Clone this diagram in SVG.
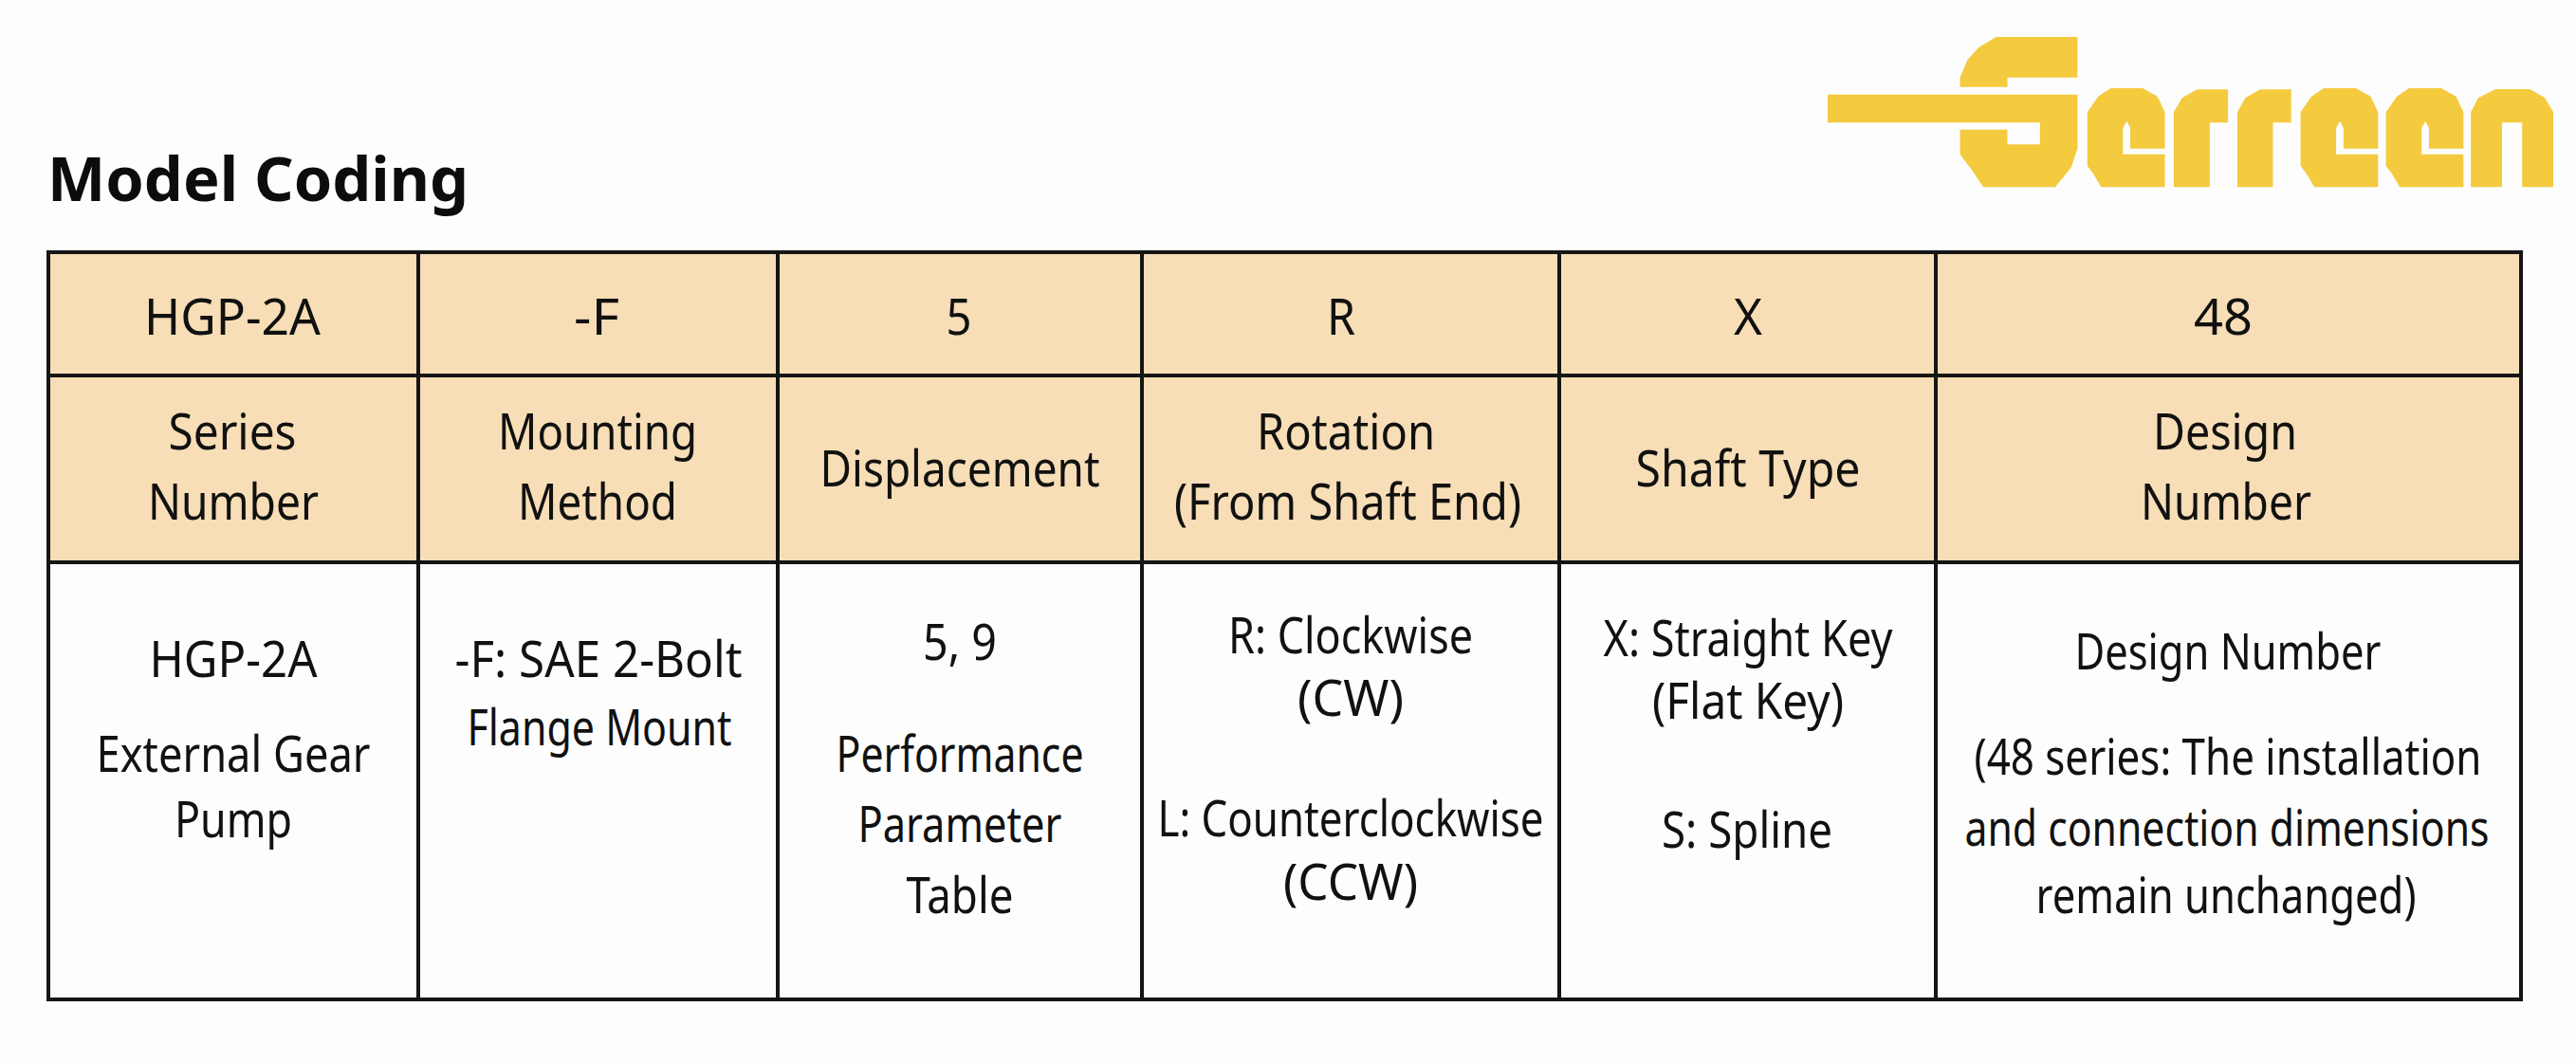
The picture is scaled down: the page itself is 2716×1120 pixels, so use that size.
<svg xmlns="http://www.w3.org/2000/svg" width="2716" height="1120" viewBox="0 0 2716 1120">
<style>
text{font-family:"Noto Sans","Open Sans","Liberation Sans",sans-serif;font-size:53px;fill:#111;text-anchor:middle}
.title{font-size:65px;font-weight:700;text-anchor:start;fill:#0c0c0c}
.h{fill:#f8deb6}
.g{stroke:#151515;stroke-width:4;fill:none}
.logo{fill:#f4ca3f}
</style>
<rect width="2716" height="1120" fill="#fdfdfd"/>
<g id="logo" transform="translate(1900,20) scale(0.5204,0.3333)">
<path class="logo" d="M393,57H558V185H416V215H320V185L335,130L358,90Z"/>
<path class="logo" d="M52,239H558V410L545,470L513,532H367L345,480L320,428V350H416V397H482V328H52Z"/>
<path class="logo" d="M625,219H690L720,245L735,295V410H665V345L658,323L650,345V428H735V532H606L590,490L578,465V295L600,245Z"/>
<path class="logo" d="M800,223H863V328H826V532H753V295L770,250Z"/>
<path class="logo" d="M928,223H991V328H954V532H882V295L898,250Z"/>
<path class="logo" transform="translate(432,0)" d="M625,219H690L720,245L735,295V410H665V345L658,323L650,345V428H735V532H606L590,490L578,465V295L600,245Z"/>
<path class="logo" transform="translate(605,0)" d="M625,219H690L720,245L735,295V410H665V345L658,323L650,345V428H735V532H606L590,490L578,465V295L600,245Z"/>
<path class="logo" d="M1405,222H1475L1505,250L1522,295V532H1459V328H1418V532H1355V295L1370,250Z"/>
</g>
<text class="title" x="50" y="212" textLength="444" lengthAdjust="spacingAndGlyphs">Model Coding</text>
<g id="header-fill">
<rect class="h" x="51" y="266" width="2607" height="327"/>
</g>
<g id="col1">
<text x="245" y="353" textLength="186" lengthAdjust="spacingAndGlyphs">HGP-2A</text>
<text x="245" y="474" textLength="135" lengthAdjust="spacingAndGlyphs">Series</text>
<text x="246" y="548" textLength="180" lengthAdjust="spacingAndGlyphs">Number</text>
<text x="246" y="714" textLength="177" lengthAdjust="spacingAndGlyphs">HGP-2A</text>
<text x="246" y="814" textLength="289" lengthAdjust="spacingAndGlyphs">External Gear</text>
<text x="246" y="883" textLength="124" lengthAdjust="spacingAndGlyphs">Pump</text>
</g>
<g id="col2">
<text x="629" y="353" textLength="48" lengthAdjust="spacingAndGlyphs">-F</text>
<text x="630" y="474" textLength="210" lengthAdjust="spacingAndGlyphs">Mounting</text>
<text x="630" y="548" textLength="168" lengthAdjust="spacingAndGlyphs">Method</text>
<text x="631" y="714" textLength="303" lengthAdjust="spacingAndGlyphs">-F: SAE 2-Bolt</text>
<text x="632" y="786" textLength="279" lengthAdjust="spacingAndGlyphs">Flange Mount</text>
</g>
<g id="col3">
<text x="1011" y="353" textLength="27" lengthAdjust="spacingAndGlyphs">5</text>
<text x="1012" y="513" textLength="295" lengthAdjust="spacingAndGlyphs">Displacement</text>
<text x="1012" y="696" textLength="78" lengthAdjust="spacingAndGlyphs">5, 9</text>
<text x="1012" y="814" textLength="261" lengthAdjust="spacingAndGlyphs">Performance</text>
<text x="1012" y="888" textLength="215" lengthAdjust="spacingAndGlyphs">Parameter</text>
<text x="1012" y="963" textLength="113" lengthAdjust="spacingAndGlyphs">Table</text>
</g>
<g id="col4">
<text x="1414" y="353" textLength="30" lengthAdjust="spacingAndGlyphs">R</text>
<text x="1419" y="474" textLength="188" lengthAdjust="spacingAndGlyphs">Rotation</text>
<text x="1421" y="548" textLength="366" lengthAdjust="spacingAndGlyphs">(From Shaft End)</text>
<text x="1424" y="689" textLength="258" lengthAdjust="spacingAndGlyphs">R: Clockwise</text>
<text x="1424" y="755" textLength="112" lengthAdjust="spacingAndGlyphs">(CW)</text>
<text x="1424" y="882" textLength="407" lengthAdjust="spacingAndGlyphs">L: Counterclockwise</text>
<text x="1424" y="949" textLength="142" lengthAdjust="spacingAndGlyphs">(CCW)</text>
</g>
<g id="col5">
<text x="1843" y="353" textLength="30" lengthAdjust="spacingAndGlyphs">X</text>
<text x="1843" y="513" textLength="237" lengthAdjust="spacingAndGlyphs">Shaft Type</text>
<text x="1843" y="692" textLength="305" lengthAdjust="spacingAndGlyphs">X: Straight Key</text>
<text x="1843" y="758" textLength="202" lengthAdjust="spacingAndGlyphs">(Flat Key)</text>
<text x="1842" y="894" textLength="180" lengthAdjust="spacingAndGlyphs">S: Spline</text>
</g>
<g id="col6">
<text x="2344" y="353" textLength="62" lengthAdjust="spacingAndGlyphs">48</text>
<text x="2346" y="474" textLength="152" lengthAdjust="spacingAndGlyphs">Design</text>
<text x="2347" y="548" textLength="180" lengthAdjust="spacingAndGlyphs">Number</text>
<text x="2349" y="706" textLength="323" lengthAdjust="spacingAndGlyphs">Design Number</text>
<text x="2349" y="817" textLength="535" lengthAdjust="spacingAndGlyphs">(48 series: The installation</text>
<text x="2348" y="892" textLength="553" lengthAdjust="spacingAndGlyphs">and connection dimensions</text>
<text x="2347" y="963" textLength="401" lengthAdjust="spacingAndGlyphs">remain unchanged)</text>
</g>
<g id="grid" class="g">
<rect x="51" y="266" width="2607" height="788"/>
<path d="M51,396H2658M51,593H2658M441,266V1054M820,266V1054M1204,266V1054M1644,266V1054M2041,266V1054"/>
</g>
</svg>
